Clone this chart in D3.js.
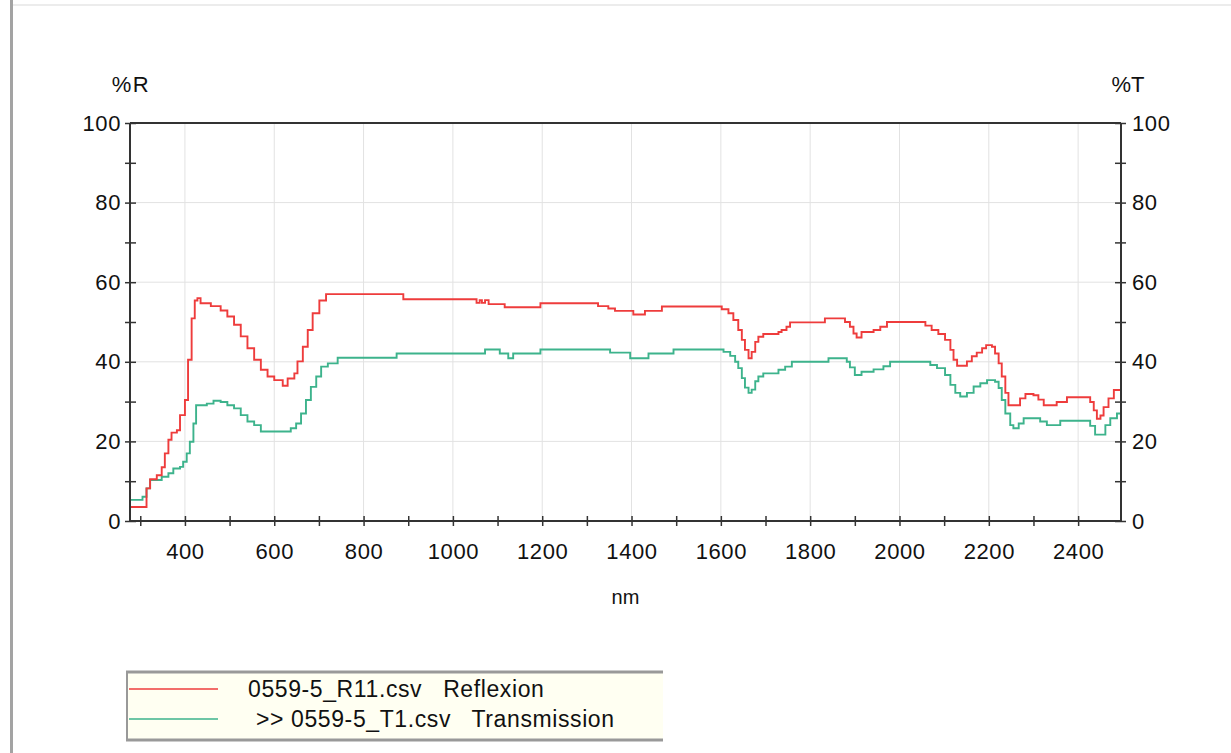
<!DOCTYPE html>
<html>
<head>
<meta charset="utf-8">
<script src="https://cdn.jsdelivr.net/npm/d3@7"></script>
<style>
  body { margin: 0; background: #fff; }
  svg { display: block; font-family: "Liberation Sans", Arial, sans-serif; }
  .axis path { display: none; }
  .axis line { stroke: #333; stroke-width: 1.5; }
  .axis text { font-size: 22px; fill: #111; letter-spacing: 0.6px; }
</style>
</head>
<body>
<svg id="chart" width="1231" height="753"></svg>
<script>
// wavelengths (nm) and values (%), drawn as steps
const reflWl  = [277, 314, 322, 337, 348, 355, 363, 370, 382, 389, 400, 407, 415, 422, 428, 435, 458, 480, 495, 510,
  525, 540, 555, 570, 585, 600, 619, 630, 645, 652, 664, 675, 686, 701, 716, 885, 889, 1053, 1060, 1065,
  1072, 1080, 1116, 1196, 1325, 1348, 1363, 1404, 1430, 1468, 1602, 1617, 1628, 1639, 1647, 1654, 1662, 1669, 1677, 1684,
  1695, 1729, 1736, 1747, 1755, 1833, 1878, 1889, 1897, 1904, 1915, 1942, 1957, 1972, 2058, 2072, 2087, 2102, 2114, 2121,
  2129, 2151, 2162, 2173, 2185, 2194, 2207, 2214, 2222, 2229, 2237, 2244, 2270, 2282, 2300, 2311, 2323, 2352, 2375, 2427,
  2435, 2442, 2450, 2457, 2468, 2480, 2496];
const reflVal = [3.5, 8.2, 10.5, 11.5, 13.5, 17, 20.4, 22.2, 22.8, 26.6, 30.4, 40.5, 50.9, 55.4, 56, 54.7, 54, 52.9, 51.4, 49.3,
  46.4, 43.4, 40.5, 38, 36.3, 35.4, 34, 35.8, 37.1, 40.1, 43.8, 48, 52.2, 55.4, 57, 57, 55.7, 54.8, 55.5, 54.8,
  55.5, 54.5, 53.7, 54.7, 54, 53.4, 52.8, 51.9, 52.8, 53.9, 53.2, 52.2, 50.5, 48, 45.5, 43, 40.9, 42.5, 45, 46.3,
  47, 47.5, 48, 48.8, 49.9, 50.9, 50, 48.8, 47.1, 46.1, 47.5, 48, 48.8, 50, 49.1, 48, 47, 45.5, 43, 40.5,
  39, 40.1, 41.4, 42.3, 43.4, 44.2, 43.8, 42.1, 39.6, 36.3, 32.2, 29.1, 30.8, 31.9, 31.6, 30.5, 29.1, 29.9, 31.1, 29.9,
  27.8, 25.7, 26.5, 28.6, 30.8, 32.9, 32.9];

const transWl  = [277, 305, 314, 322, 348, 363, 374, 389, 396, 404, 411, 419, 425, 449, 464, 480, 495, 510, 525, 540,
  555, 570, 637, 649, 660, 671, 682, 694, 705, 720, 742, 874, 1072, 1105, 1124, 1135, 1196, 1352, 1397, 1438,
  1494, 1606, 1621, 1632, 1639, 1647, 1654, 1662, 1669, 1677, 1684, 1695, 1729, 1744, 1759, 1841, 1882, 1889, 1900, 1915,
  1942, 1964, 1979, 2069, 2084, 2102, 2114, 2125, 2136, 2151, 2166, 2181, 2196, 2214, 2222, 2229, 2237, 2248, 2255, 2267,
  2278, 2315, 2330, 2360, 2427, 2438, 2461, 2472, 2487, 2496];
const transVal = [5.3, 6.1, 8.2, 10.3, 11.1, 12, 13.2, 13.6, 14.9, 17, 19.9, 24.5, 29.1, 29.5, 30.2, 29.9, 29.1, 28.3, 26.6, 25,
  24.1, 22.5, 23.3, 24.5, 27, 30.4, 33.7, 36.3, 38.8, 39.6, 41, 42.1, 43.1, 42.1, 40.9, 42.1, 43.1, 42.3, 40.9, 42.1,
  43.1, 42.5, 41.5, 40, 38.4, 35.9, 33.5, 32.2, 33, 35.1, 36.3, 37.1, 38, 38.8, 40, 40.9, 40, 38.6, 36.7, 37.5,
  38.1, 38.9, 40, 39.2, 38.4, 36.7, 34.2, 32.2, 31.3, 32.2, 33.8, 34.6, 35.4, 35, 33.4, 30.4, 27, 24.1, 23.3, 24.5,
  25.8, 25, 24.1, 25.2, 23.9, 21.7, 24.1, 25.8, 27, 27];

const xTicks = d3.range(300, 2401, 100);
const xLabels = d3.range(400, 2401, 200);
const yTicks = d3.range(0, 101, 10);
const yLabels = d3.range(0, 101, 20);

const seriesNames = ["0559-5_R11.csv   Reflexion", ">> 0559-5_T1.csv   Transmission"];
const seriesColors = ["#ee3c3c", "#3db38c"];

const svg = d3.select("#chart");

// window frame bits from the screenshot
svg.append("rect").attr("x", 10).attr("y", 0).attr("width", 3).attr("height", 753).attr("fill", "#a3a3a3");
svg.append("line").attr("x1", 13).attr("x2", 1231).attr("y1", 5).attr("y2", 5)
  .attr("stroke", "#ececec").attr("stroke-width", 2);

const x = d3.scaleLinear().domain([277, 2496]).range([130, 1121]);
const y = d3.scaleLinear().domain([0, 100]).range([521, 123]);

// grid
svg.append("g").selectAll("line").data(xLabels).join("line")
  .attr("x1", d => x(d)).attr("x2", d => x(d)).attr("y1", y(0)).attr("y2", y(100))
  .attr("stroke", "#e2e2e2").attr("stroke-width", 1);
svg.append("g").selectAll("line").data(yLabels.filter(d => d > 0 && d < 100)).join("line")
  .attr("x1", x.range()[0]).attr("x2", x.range()[1]).attr("y1", d => y(d)).attr("y2", d => y(d))
  .attr("stroke", "#e2e2e2").attr("stroke-width", 1);

// curves
const line = d3.line().x(d => x(d[0])).y(d => y(d[1])).curve(d3.curveStepAfter);
const refl = reflWl.map((w, i) => [w, reflVal[i]]);
const trans = transWl.map((w, i) => [w, transVal[i]]);

svg.append("path").datum(trans).attr("d", line)
  .attr("fill", "none").attr("stroke", seriesColors[1]).attr("stroke-width", 1.9);
svg.append("path").datum(refl).attr("d", line)
  .attr("fill", "none").attr("stroke", seriesColors[0]).attr("stroke-width", 1.9);

// axes
const xAxis = svg.append("g").attr("class", "axis").attr("transform", `translate(0,${y(0)})`)
  .call(d3.axisBottom(x).tickValues(xTicks).tickSize(5).tickPadding(17)
    .tickFormat(d => d % 200 === 0 ? d : ""));
xAxis.selectAll(".tick line").attr("y1", -5);

const yLeft = svg.append("g").attr("class", "axis").attr("transform", `translate(${x.range()[0]},0)`)
  .call(d3.axisLeft(y).tickValues(yTicks).tickSize(5).tickPadding(4)
    .tickFormat(d => d % 20 === 0 ? d : ""));
yLeft.selectAll(".tick line").attr("x1", 6);

const yRight = svg.append("g").attr("class", "axis").attr("transform", `translate(${x.range()[1]},0)`)
  .call(d3.axisRight(y).tickValues(yTicks).tickSize(5).tickPadding(6)
    .tickFormat(d => d % 20 === 0 ? d : ""));
yRight.selectAll(".tick line").attr("x1", -6);

// frame
const frame = svg.append("g").attr("stroke", "#333").attr("stroke-width", 2).attr("fill", "none");
frame.append("line").attr("x1", x.range()[0]).attr("x2", x.range()[1]).attr("y1", y(100)).attr("y2", y(100));
frame.append("line").attr("x1", x.range()[0]).attr("x2", x.range()[1]).attr("y1", y(0)).attr("y2", y(0));
frame.append("line").attr("x1", x.range()[0]).attr("x2", x.range()[0]).attr("y1", y(0)).attr("y2", y(100));
frame.append("line").attr("x1", x.range()[1]).attr("x2", x.range()[1]).attr("y1", y(0)).attr("y2", y(100));

// axis titles
svg.append("text").attr("x", 131).attr("y", 92).attr("text-anchor", "middle")
  .attr("font-size", 22).attr("letter-spacing", 1.5).attr("fill", "#111").text("%R");
svg.append("text").attr("x", 1128).attr("y", 92).attr("text-anchor", "middle")
  .attr("font-size", 22).attr("fill", "#111").text("%T");
svg.append("text").attr("x", (x.range()[0] + x.range()[1]) / 2).attr("y", 604).attr("text-anchor", "middle")
  .attr("font-size", 20).attr("fill", "#111").text("nm");

// legend
const leg = svg.append("g");
leg.append("rect").attr("x", 127).attr("y", 672).attr("width", 536).attr("height", 68).attr("fill", "#fffff2");
leg.append("line").attr("x1", 126).attr("x2", 663).attr("y1", 672).attr("y2", 672).attr("stroke", "#999").attr("stroke-width", 3);
leg.append("line").attr("x1", 126).attr("x2", 663).attr("y1", 740).attr("y2", 740).attr("stroke", "#999").attr("stroke-width", 3);
leg.append("line").attr("x1", 127).attr("x2", 127).attr("y1", 672).attr("y2", 740).attr("stroke", "#999").attr("stroke-width", 2);

const rows = leg.selectAll("g.row").data(seriesNames).join("g").attr("class", "row")
  .attr("transform", (d, i) => `translate(0,${689 + i * 30})`);
rows.append("line").attr("x1", 129).attr("x2", 218).attr("y1", 0).attr("y2", 0)
  .attr("stroke", (d, i) => seriesColors[i]).attr("stroke-width", 1.6);
rows.append("text").attr("x", (d, i) => i === 0 ? 248 : 256).attr("y", 0).attr("dy", "0.35em")
  .attr("font-size", 23).attr("letter-spacing", 0.6).attr("fill", "#111").attr("xml:space", "preserve")
  .style("white-space", "pre").text(d => d);
</script>
</body>
</html>
